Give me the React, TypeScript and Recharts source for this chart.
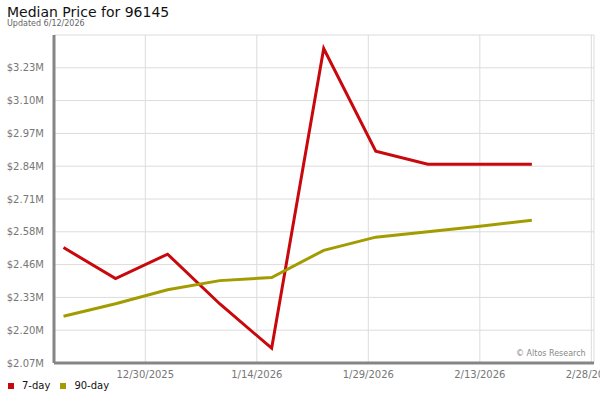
import React from 'react';
import { LineChart, Line, XAxis, YAxis, CartesianGrid } from 'recharts';

const dates = ['2025-12-19', '2025-12-26', '2026-01-02', '2026-01-09', '2026-01-16', '2026-01-23', '2026-01-30', '2026-02-06', '2026-02-13', '2026-02-20'];
const sevenDay = [2522000, 2400000, 2496000, 2301000, 2126000, 3305000, 2901000, 2850000, 2850000, 2850000];
const ninetyDay = [2252000, 2301000, 2356000, 2392000, 2404000, 2511000, 2563000, 2584000, 2606000, 2629000];

const yTickValues = [2068000, 2197000, 2326000, 2455000, 2584000, 2713000, 2842000, 2971000, 3100000, 3229000, 3358000];
const yTickLabels = ['$2.07M', '$2.20M', '$2.33M', '$2.46M', '$2.58M', '$2.71M', '$2.84M', '$2.97M', '$3.10M', '$3.23M', ''];

const xTickDates = ['2025-12-30', '2026-01-14', '2026-01-29', '2026-02-13', '2026-02-28'];
const xTickLabels = ['12/30/2025', '1/14/2026', '1/29/2026', '2/13/2026', '2/28/2026'];

const series = [
  { key: 'sevenDay', name: '7-day', color: '#c8080c' },
  { key: 'ninetyDay', name: '90-day', color: '#a29c00' },
];

const DAY = 86400000;
const toTs = (s: string) => {
  const [y, m, d] = s.split('-').map(Number);
  return Date.UTC(y, m - 1, d);
};
const base = toTs('2025-12-18');
const xDomain = [base - 0.28 * DAY, base + 72.36 * DAY];

const data = dates.map((d, i) => ({ t: toTs(d), sevenDay: sevenDay[i], ninetyDay: ninetyDay[i] }));
const xTicks = [...xTickDates.map(toTs), xDomain[1]];
const xLabelMap = new Map<number, string>(xTickDates.map((d, i) => [toTs(d), xTickLabels[i]]));
const yLabelMap = new Map<number, string>(yTickValues.map((v, i) => [v, yTickLabels[i]]));

const FONT = '"DejaVu Sans", sans-serif';

export default function App() {
  return (
    <div style={{ position: 'absolute', left: 0, top: 0, width: 600, height: 400, fontFamily: FONT, background: '#fff' }}>
      <LineChart width={600} height={400} data={data} margin={{ top: 35, right: 6, bottom: 17, left: 0 }}>
        <CartesianGrid stroke="#dcdcdc" strokeWidth={1} />
        <XAxis
          dataKey="t"
          type="number"
          scale="linear"
          domain={xDomain}
          ticks={xTicks}
          interval={0}
          height={20}
          tickLine={false}
          axisLine={{ stroke: '#858585', strokeWidth: 3 }}
          tick={{ fill: '#777', fontSize: 10, fontFamily: FONT }}
          tickFormatter={(v: number) => xLabelMap.get(v) ?? ''}
          allowDataOverflow
        />
        <YAxis
          type="number"
          domain={[yTickValues[0], yTickValues[yTickValues.length - 1]]}
          ticks={yTickValues}
          interval={0}
          width={54}
          tickLine={false}
          tickMargin={4}
          axisLine={{ stroke: '#858585', strokeWidth: 3 }}
          tick={{ fill: '#777', fontSize: 10, fontFamily: FONT }}
          tickFormatter={(v: number) => yLabelMap.get(v) ?? ''}
          allowDataOverflow
        />
        {series.map((s) => (
          <Line
            key={s.key}
            type="linear"
            dataKey={s.key}
            name={s.name}
            stroke={s.color}
            strokeWidth={3}
            dot={false}
            activeDot={false}
            isAnimationActive={false}
          />
        ))}
      </LineChart>
      <div style={{ position: 'absolute', left: 7, top: 3, fontSize: 14, color: '#111', whiteSpace: 'nowrap', lineHeight: '18px' }}>
        Median Price for 96145
      </div>
      <div style={{ position: 'absolute', left: 7, top: 19, fontSize: 8, color: '#666', whiteSpace: 'nowrap', lineHeight: '10px' }}>
        Updated 6/12/2026
      </div>
      <div style={{ position: 'absolute', left: 516, top: 348, fontSize: 8, color: '#888', whiteSpace: 'nowrap', lineHeight: '12px' }}>
        © Altos Research
      </div>
      <div style={{ position: 'absolute', left: 8, top: 380, display: 'flex', alignItems: 'center', fontSize: 10, color: '#111', lineHeight: '12px' }}>
        {series.map((s) => (
          <div key={s.key} style={{ display: 'flex', alignItems: 'center', marginRight: 10 }}>
            <span style={{ display: 'inline-block', width: 6, height: 6, background: s.color, marginRight: 8 }} />
            <span>{s.name}</span>
          </div>
        ))}
      </div>
    </div>
  );
}
